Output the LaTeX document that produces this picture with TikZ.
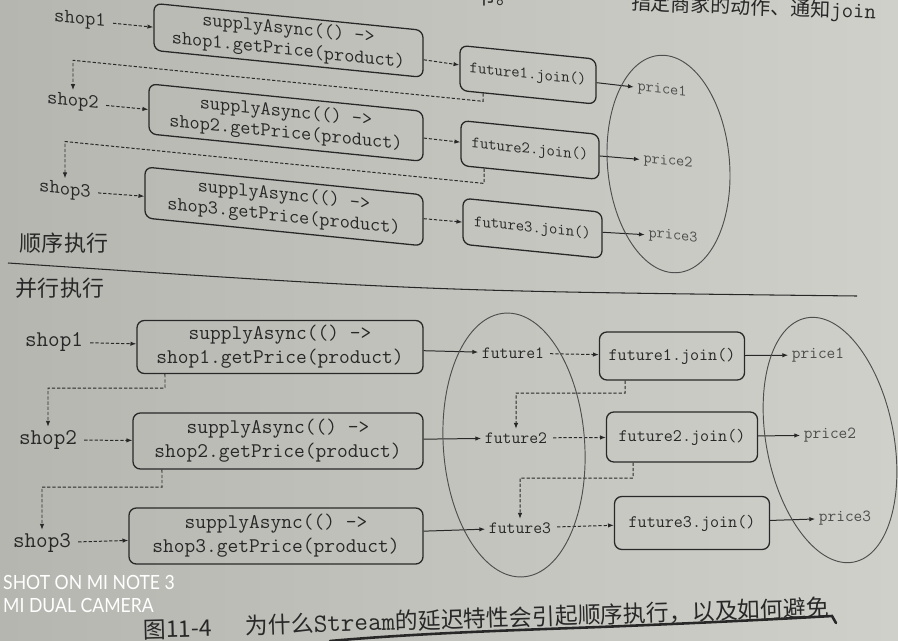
\documentclass[tikz,border=0pt]{standalone}
\usepackage{fontspec}
\usepackage{graphicx}
\newfontfamily\cjk{Noto Sans CJK SC}
\newfontfamily\wmfont{Lato}
\newcommand\codef{\ttfamily\addfontfeatures{FakeBold=1.5}}
\newcommand\codel{\ttfamily\addfontfeatures{FakeBold=0.6}}
\usetikzlibrary{arrows.meta,shapes.geometric}
\definecolor{paperA}{RGB}{182,182,177}
\definecolor{paperB}{RGB}{208,208,203}
\definecolor{ink}{RGB}{40,40,40}
\definecolor{inkl}{RGB}{78,78,78}
\begin{document}
\begin{tikzpicture}[x=0.03cm,y=-0.03cm,
  tip/.style={-{Latex[length=5pt,width=3.8pt]}},
  dcon/.style={tip,draw=ink,line width=0.85pt,dash pattern=on 2.8pt off 1.6pt},
  scon/.style={tip,draw=ink,line width=0.85pt},
  cboxT/.style={draw=ink,line width=1.1pt,rounded corners=0.22cm,align=center,text=ink,inner sep=0pt,
     font=\codef\fontsize{16.8}{18}\selectfont},
  jboxT/.style={draw=ink,line width=1.1pt,rounded corners=0.22cm,text=ink,inner sep=0pt,
     font=\codef\fontsize{13.8}{15}\selectfont},
  shopT/.style={text=ink,inner sep=3pt,font=\codef\fontsize{17.1}{19}\selectfont},
  priceT/.style={text=inkl,inner sep=3pt,font=\codel\fontsize{13.5}{15}\selectfont},
  cboxB/.style={draw=ink,line width=1.1pt,rounded corners=0.22cm,align=center,text=ink,inner sep=0pt,
     font=\codef\fontsize{17.8}{20.5}\selectfont},
  jboxB/.style={draw=ink,line width=1.1pt,rounded corners=0.22cm,text=ink,inner sep=0pt,
     font=\codef\fontsize{15}{17}\selectfont},
  shopB/.style={text=ink,inner sep=3pt,font=\codef\fontsize{19.2}{21}\selectfont},
  futB/.style={text=ink,inner sep=3pt,font=\codef\fontsize{14.7}{17}\selectfont},
  priceB/.style={text=inkl,inner sep=3pt,font=\codel\fontsize{14.4}{17}\selectfont},
  oval/.style={draw=inkl,line width=0.8pt,ellipse,inner sep=0pt},
  cjklbl/.style={text=ink,inner sep=0pt,font=\cjk\fontsize{18.8}{22}\selectfont},
  captxt/.style={text=ink,inner sep=0pt,font=\cjk\fontsize{19.5}{22}\selectfont},
  toptxt/.style={text=ink,inner sep=0pt,font=\cjk\fontsize{17}{20}\selectfont},
  wmark/.style={text=white,inner sep=0pt,font=\wmfont\fontsize{16.7}{19}\selectfont}
]
\useasboundingbox (0,0) rectangle (898,640);
\shade[left color=paperA,right color=paperB] (0,0) rectangle (898,640);

% partial text at the top edge
\node[toptxt,anchor=west] (tt0) at (476,-3) {节。};
\node[toptxt,anchor=west,rotate=-2] (tt1) at (631,4) {指定商家的动作、通知{\codel\fontsize{19}{20}\selectfont join}};

% ---------------- sequential (sheared like the photo) ----------------
\begin{scope}[cm={1,-0.1,0,1,(0cm,0.9cm)},transform shape]
  \node[shopT] (s1) at (80,42) {shop1};
  \node[shopT] (s2) at (73,125) {shop2};
  \node[shopT] (s3) at (65,214) {shop3};
  \node[cboxT,minimum width=8.07cm,minimum height=1.41cm] (A1) at (288.5,41.5) {supplyAsync(() ->\\shop1.getPrice(product)};
  \node[cboxT,minimum width=8.22cm,minimum height=1.5cm] (A2) at (286,124) {supplyAsync(() ->\\shop2.getPrice(product)};
  \node[cboxT,minimum width=8.34cm,minimum height=1.53cm] (A3) at (284,208) {supplyAsync(() ->\\shop3.getPrice(product)};
  \node[jboxT,minimum width=4.08cm,minimum height=1.35cm] (J1) at (528,52) {future1.join()};
  \node[jboxT,minimum width=4.14cm,minimum height=1.35cm] (J2) at (530,127) {future2.join()};
  \node[jboxT,minimum width=4.17cm,minimum height=1.38cm] (J3) at (532.5,205) {future3.join()};
  \node[priceT] (p1) at (662,54) {price1};
  \node[priceT] (p2) at (668,125) {price2};
  \node[priceT] (p3) at (673,199) {price3};
  \draw[dcon,shorten <=3pt] (s1) -- (A1);
  \draw[dcon,shorten <=3pt] (s2) -- (A2);
  \draw[dcon,shorten <=3pt] (s3) -- (A3);
  \draw[dcon] (A1) -- (J1);
  \draw[dcon] (A2) -- (J2);
  \draw[dcon] (A3) -- (J3);
  \draw[scon] (J1) -- (p1);
  \draw[scon] (J2) -- (p2);
  \draw[scon] (J3) -- (p3);
  \coordinate (c1) at (483,83);
  \coordinate (c2) at (73,83);
  \coordinate (c3) at (484,165);
  \coordinate (c4) at (65,165);
  \draw[dcon] ([xshift=-1.35cm]J1.south) -- (c1) -- (c2) -- (s2.north);
  \draw[dcon] ([xshift=-1.38cm]J2.south) -- (c3) -- (c4) -- (s3.north);
\end{scope}
\node[oval,minimum width=3.66cm,minimum height=6.54cm,rotate=5] (E1) at (668.5,164) {};

\node[cjklbl] (seq) at (64,243) {顺序执行};
\draw[draw=ink,line width=0.9pt] (8,263) .. controls (430,291) .. (857,296);
\node[cjklbl] (par) at (60,288) {并行执行};

% ---------------- parallel ----------------
\node[shopB] (t1) at (54,342) {shop1};
\node[shopB] (t2) at (48,440) {shop2};
\node[shopB] (t3) at (42,543) {shop3};
\node[cboxB,minimum width=8.58cm,minimum height=1.59cm] (B1) at (280,347) {supplyAsync(() ->\\shop1.getPrice(product)};
\node[cboxB,minimum width=8.7cm,minimum height=1.68cm] (B2) at (278,441) {supplyAsync(() ->\\shop2.getPrice(product)};
\node[cboxB,minimum width=8.82cm,minimum height=1.68cm] (B3) at (276,536) {supplyAsync(() ->\\shop3.getPrice(product)};
\node[futB] (f1) at (513,353) {future1};
\node[futB] (f2) at (516,438) {future2};
\node[futB] (f3) at (520,528) {future3};
\node[jboxB,minimum width=4.35cm,minimum height=1.44cm] (F1) at (672,356) {future1.join()};
\node[jboxB,minimum width=4.53cm,minimum height=1.5cm] (F2) at (682,437) {future2.join()};
\node[jboxB,minimum width=4.65cm,minimum height=1.59cm] (F3) at (692,523) {future3.join()};
\node[priceB] (q1) at (818,355) {price1};
\node[priceB] (q2) at (830,435) {price2};
\node[priceB] (q3) at (845,518) {price3};
\draw[dcon,shorten <=3pt] (t1) -- (B1);
\draw[dcon,shorten <=3pt] (t2) -- (B2);
\draw[dcon,shorten <=3pt] (t3) -- (B3);
\draw[scon] (B1) -- (f1);
\draw[scon] (B2) -- (f2);
\draw[scon] (B3) -- (f3);
\draw[dcon,shorten <=2pt] (f1) -- (F1);
\draw[dcon,shorten <=2pt] (f2) -- (F2);
\draw[dcon,shorten <=2pt] (f3) -- (F3);
\draw[scon] (F1) -- (q1);
\draw[scon] (F2) -- (q2);
\draw[scon] (F3) -- (q3);
\coordinate (d1) at (165,388);
\coordinate (d2) at (48,388);
\coordinate (d3) at (162,487);
\coordinate (d4) at (42,487);
\coordinate (d5) at (625,393);
\coordinate (d6) at (516,393);
\coordinate (d7) at (633,478);
\coordinate (d8) at (520,478);
\draw[dcon] ([xshift=-3.45cm]B1.south) -- (d1) -- (d2) -- (t2.north);
\draw[dcon] ([xshift=-3.48cm]B2.south) -- (d3) -- (d4) -- (t3.north);
\draw[dcon] ([xshift=-1.41cm]F1.south) -- (d5) -- (d6) -- (f2.north);
\draw[dcon] ([xshift=-1.47cm]F2.south) -- (d7) -- (d8) -- (f3.north);
\node[oval,minimum width=4.24cm,minimum height=7.93cm,rotate=4] (E2) at (514,445) {};
\node[oval,minimum width=3.82cm,minimum height=7.46cm,rotate=11] (E3) at (830,440) {};

% caption with pen underline
\node[captxt,anchor=west,rotate=1.5] (cap1) at (143,630) {图11-4};
\node[captxt,anchor=west,rotate=1.8] (cap2) at (245,626) {为什么{\codel\fontsize{22.5}{22}\selectfont Stream}的延迟特性会引起顺序执行，以及如何避免};
\draw[draw=ink,line width=2.2pt,line cap=round] (330,641) .. controls (420,633) and (520,630) .. (600,627) .. controls (700,623) and (780,619) .. (832,616) -- (836,623);

% camera watermark
\node[wmark,anchor=west] (wm1) at (3,582) {\scalebox{0.9}[1]{SHOT ON MI NOTE 3}};
\node[wmark,anchor=west] (wm2) at (3,605) {\scalebox{0.9}[1]{MI DUAL CAMERA}};
\end{tikzpicture}
\end{document}
